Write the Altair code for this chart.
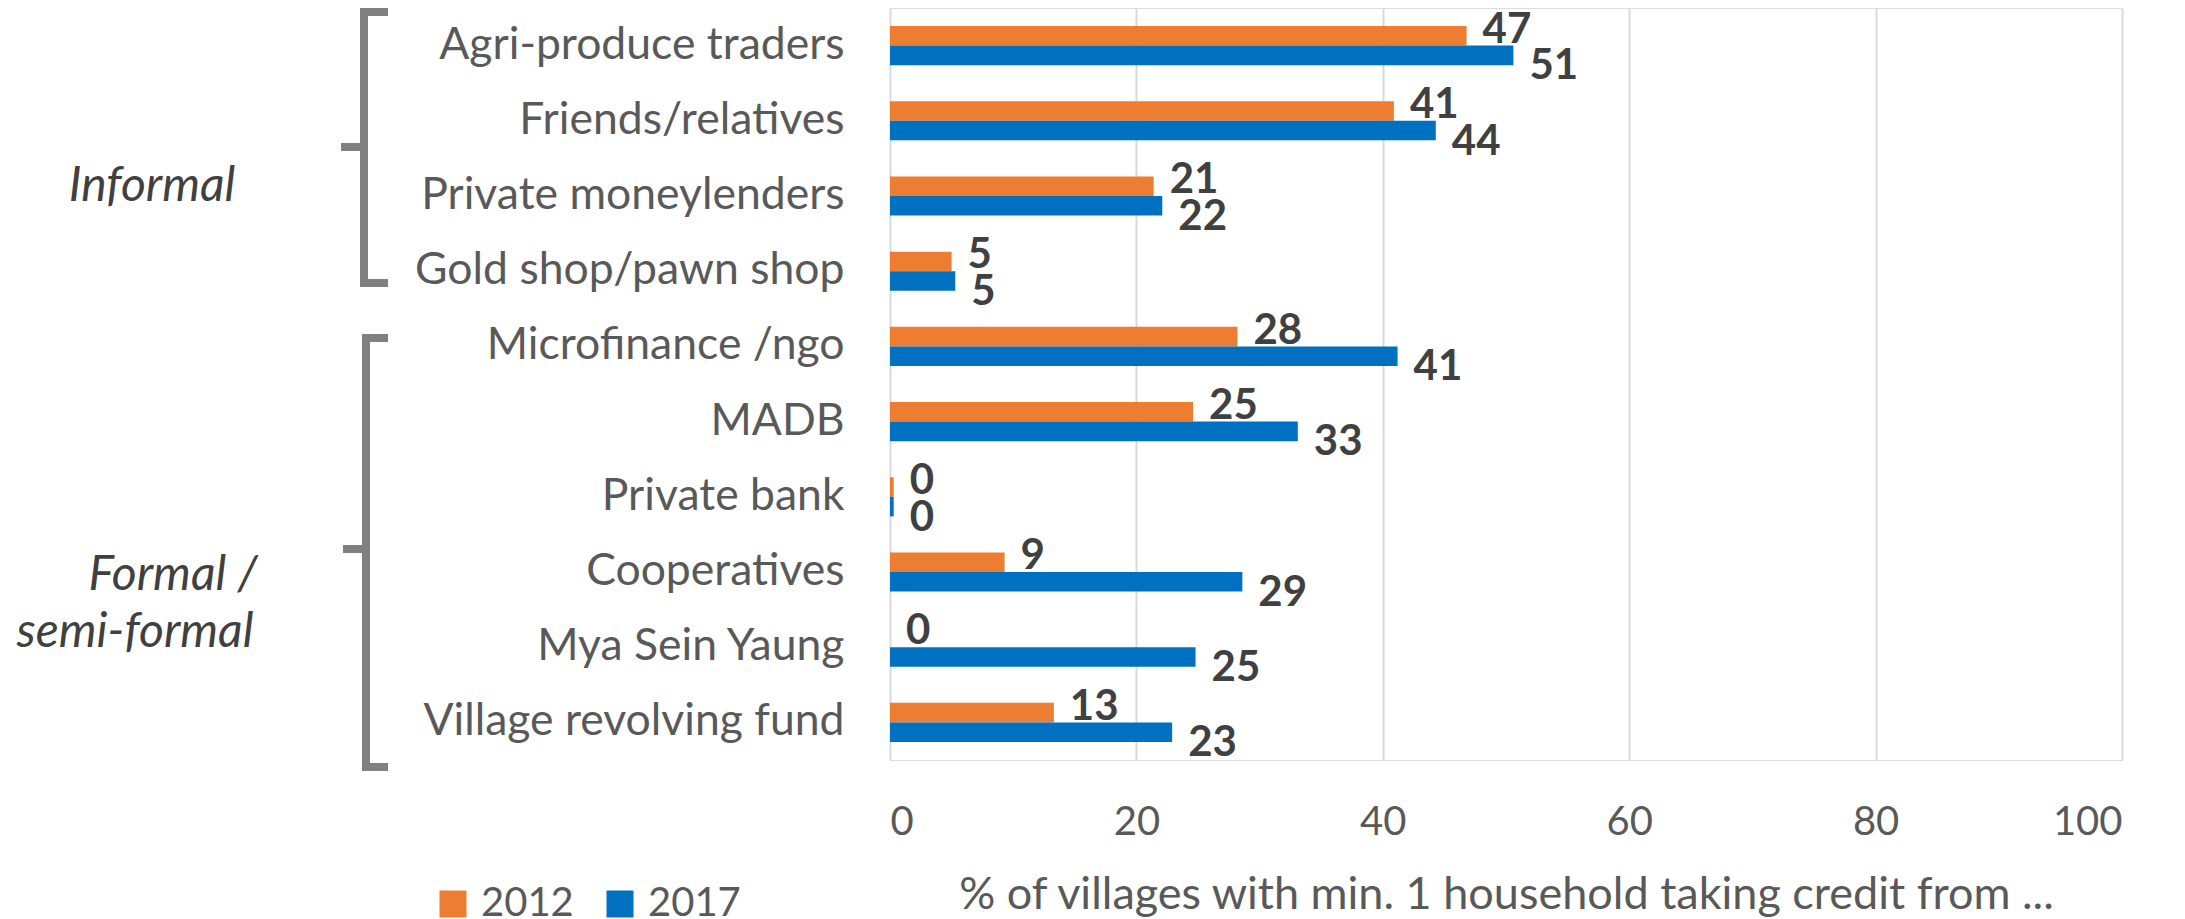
import altair as alt
import pandas as pd

categories = ["Agri-produce traders", "Friends/relatives", "Private moneylenders",
              "Gold shop/pawn shop", "Microfinance /ngo", "MADB", "Private bank",
              "Cooperatives", "Mya Sein Yaung", "Village revolving fund"]
years = ["2012", "2017"]
values_2012 = [46.8, 40.9, 21.4, 5.0, 28.2, 24.6, 0.3, 9.3, 0.0, 13.3]
values_2017 = [50.6, 44.3, 22.1, 5.3, 41.2, 33.1, 0.3, 28.6, 24.8, 22.9]
x_ticks = [0, 20, 40, 60, 80, 100]
x_title = "% of villages with min. 1 household taking credit from ..."
group_labels = ["Informal", "Formal /", "semi-formal"]

rows = []
for c, a, b in zip(categories, values_2012, values_2017):
    rows.append({"cat": c, "year": "2012", "value": a})
    rows.append({"cat": c, "year": "2017", "value": b})
df = pd.DataFrame(rows)
one = pd.DataFrame({"k": [0]})

FONT = "Lato"
GREY = "#595959"
DARK = "#404040"

y_enc = alt.Y("cat:N", sort=categories,
              scale=alt.Scale(paddingInner=0.48, paddingOuter=0.24),
              axis=alt.Axis(title=None, labelFontSize=44.5, labelFont=FONT, labelColor=GREY,
                            ticks=False, domain=False, labelPadding=46, labelLimit=0,
                            grid=False))
yoff = alt.YOffset("year:N", sort=years, scale=alt.Scale(paddingInner=0, paddingOuter=0))
x_enc = alt.X("value:Q", scale=alt.Scale(domain=[0, 100], nice=False),
              axis=alt.Axis(values=x_ticks, title=x_title, grid=True, gridColor="#d9d9d9",
                            gridWidth=2, domain=False, ticks=False, labelFontSize=40,
                            labelFont=FONT, labelColor=GREY, labelPadding=62,
                            labelBaseline="middle",
                            titleFontSize=45, titleFont=FONT, titleFontWeight="normal",
                            titleColor=GREY, titleBaseline="alphabetic", titleY=148))

bars = alt.Chart(df).mark_bar().encode(
    x=x_enc, y=y_enc, yOffset=yoff,
    color=alt.Color("year:N", sort=years,
                    scale=alt.Scale(domain=years, range=["#ED7D31", "#0070C0"]),
                    legend=alt.Legend(orient="none", legendX=-457, legendY=876,
                                      direction="horizontal", title=None,
                                      symbolType="square", symbolSize=729,
                                      symbolStrokeWidth=0, labelFontSize=40,
                                      labelFont=FONT, labelColor=GREY, labelOffset=8,
                                      columnPadding=26, padding=0))
)

def labels(year, dy):
    return alt.Chart(df).transform_filter(alt.datum.year == year).mark_text(
        align="left", baseline="middle", dx=16, dy=dy, fontSize=42,
        fontWeight="bold", font=FONT, color=DARK
    ).encode(x="value:Q", y=alt.Y("cat:N", sort=categories), yOffset=alt.YOffset("year:N", sort=years),
             text=alt.Text("value:Q", format=".0f"))

def seg(x1, y1, x2, y2, cap="square"):
    return alt.Chart(one).mark_rule(color="#808080", strokeWidth=8, strokeCap=cap).encode(
        x=alt.value(x1), x2=alt.value(x2), y=alt.value(y1), y2=alt.value(y2))

def gtext(txt, x, y):
    return alt.Chart(one).mark_text(text=txt, fontStyle="italic", fontSize=48, font=FONT,
                                    color=DARK, align="center", baseline="middle").encode(
        x=alt.value(x), y=alt.value(y))

brackets = [
    seg(-526, 4, -526, 275),
    seg(-526, 4, -502, 4, "butt"),
    seg(-526, 275, -502, 275, "butt"),
    seg(-549, 139, -526, 139, "butt"),
    seg(-524, 330, -524, 759),
    seg(-524, 330, -502, 330, "butt"),
    seg(-524, 759, -502, 759, "butt"),
    seg(-547, 541, -524, 541, "butt"),
]

texts = [gtext(group_labels[0], -738, 179), gtext(group_labels[1], -717, 568),
         gtext(group_labels[2], -755, 625)]

chart = alt.layer(bars, labels("2012", -6), labels("2017", 11), *brackets, *texts).properties(
    width=1232, height=752,
    autosize=alt.AutoSizeParams(type="none"),
    padding={"left": 882, "top": 0, "right": 40, "bottom": 158},
).configure_view(stroke=None).configure(font=FONT)

chart.save("out.html", embed_options={"renderer": "svg", "actions": False})
